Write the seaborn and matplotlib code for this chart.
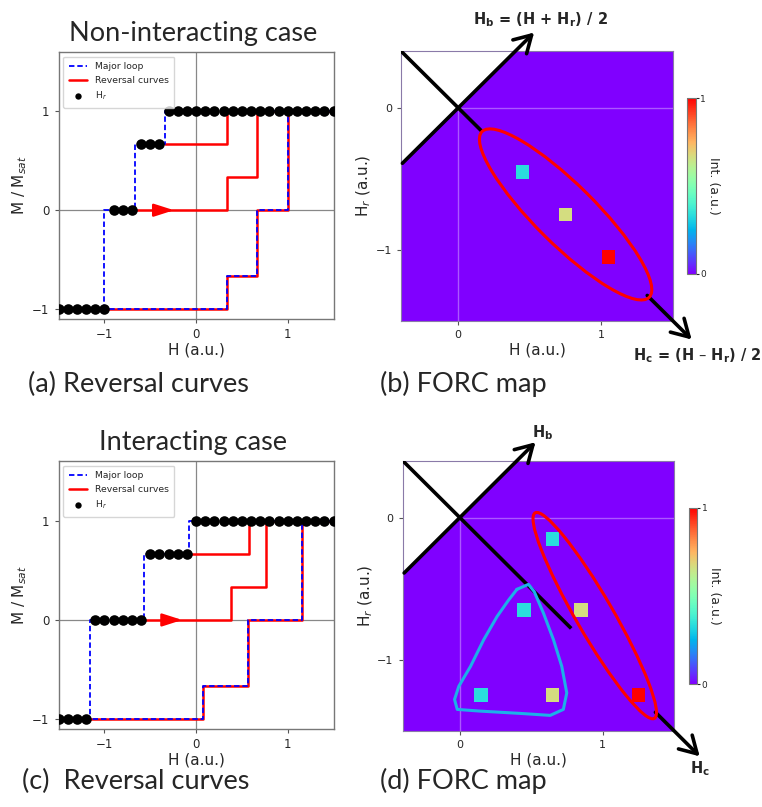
import numpy as np
import matplotlib
matplotlib.use("Agg")
import matplotlib.pyplot as plt
import seaborn as sns
from matplotlib.patches import Ellipse

sns.set_style("ticks")
plt.rcParams['font.family'] = ['DejaVu Sans']

# ---------------- (a) non-interacting case ----------------
major_h_a = [1.5, -0.333, -0.333, -0.667, -0.667, -1.0, -1.0, -1.5,
             0.333, 0.333, 0.667, 0.667, 1.0, 1.0, 1.5]
major_m_a = [1, 1, 0.667, 0.667, 0, 0, -1, -1,
             -1, -0.667, -0.667, 0, 0, 1, 1]
rev1_h_a = [-0.333, 0.333, 0.333, 1.5]
rev1_m_a = [0.667, 0.667, 1, 1]
rev2_h_a = [-0.667, 0.333, 0.333, 0.667, 0.667, 1.5]
rev2_m_a = [0, 0, 0.333, 0.333, 1, 1]
rev3_h_a = [-1.0, 0.333, 0.333, 0.667, 0.667, 1.0, 1.0, 1.5]
rev3_m_a = [-1, -1, -0.667, -0.667, 0, 0, 1, 1]
hr_h_a = [-1.5, -1.4, -1.3, -1.2, -1.1, -1.0, -0.9, -0.8, -0.7, -0.6, -0.5, -0.4,
          -0.3, -0.2, -0.1, 0.0, 0.1, 0.2, 0.3, 0.4, 0.5, 0.6, 0.7, 0.8, 0.9,
          1.0, 1.1, 1.2, 1.3, 1.4, 1.5]
hr_m_a = [-1, -1, -1, -1, -1, -1, 0, 0, 0, 0.667, 0.667, 0.667,
          1, 1, 1, 1, 1, 1, 1, 1, 1, 1, 1, 1, 1, 1, 1, 1, 1, 1, 1]

# ---------------- (c) interacting case ----------------
major_h_c = [1.5, -0.08, -0.08, -0.57, -0.57, -1.16, -1.16, -1.5,
             0.08, 0.08, 0.57, 0.57, 1.16, 1.16, 1.5]
major_m_c = [1, 1, 0.667, 0.667, 0, 0, -1, -1,
             -1, -0.667, -0.667, 0, 0, 1, 1]
rev1_h_c = [-0.08, 0.58, 0.58, 1.5]
rev1_m_c = [0.667, 0.667, 1, 1]
rev2_h_c = [-0.57, 0.38, 0.38, 0.76, 0.76, 1.5]
rev2_m_c = [0, 0, 0.333, 0.333, 1, 1]
rev3_h_c = [-1.16, 0.08, 0.08, 0.57, 0.57, 1.16, 1.16, 1.5]
rev3_m_c = [-1, -1, -0.667, -0.667, 0, 0, 1, 1]
hr_h_c = hr_h_a
hr_m_c = [-1, -1, -1, -1, 0, 0, 0, 0, 0, 0, 0.667, 0.667, 0.667, 0.667, 0.667,
          1, 1, 1, 1, 1, 1, 1, 1, 1, 1, 1, 1, 1, 1, 1, 1]

# ---------------- FORC maps ----------------
forc_h_b = [0.45, 0.75, 1.05]
forc_hr_b = [-0.45, -0.75, -1.05]
forc_int_b = [0.333, 0.667, 1.0]

forc_h_d = [0.65, 0.45, 0.85, 0.15, 0.65, 1.25]
forc_hr_d = [-0.15, -0.65, -0.65, -1.25, -1.25, -1.25]
forc_int_d = [0.333, 0.333, 0.667, 0.333, 0.667, 1.0]

# hand-drawn interaction blob in (d)
blob_h = [0.400, 0.481, 0.521, 0.586, 0.656, 0.714, 0.749, 0.725, 0.633, 0.423,
          0.144, -0.018, -0.037, -0.007, 0.075, 0.167, 0.261, 0.342, 0.400]
blob_hr = [-0.505, -0.470, -0.521, -0.673, -0.860, -1.047, -1.234, -1.350, -1.392,
           -1.378, -1.362, -1.350, -1.280, -1.187, -1.047, -0.860, -0.696, -0.580, -0.505]

title_font = 'Lato'

fig = plt.figure(figsize=(7.62, 8.07), dpi=100)


def loop_panel(rect, major_h, major_m, revs, hr_h, hr_m, arrow_tail, arrow_tip):
    ax = fig.add_axes(rect)
    ax.axhline(0, color='#888888', lw=0.9, zorder=0)
    ax.axvline(0, color='#888888', lw=0.9, zorder=0)
    for i, (rh, rm) in enumerate(revs):
        sns.lineplot(x=rh, y=rm, ax=ax, sort=False, estimator=None, color='red',
                     lw=1.8, zorder=2, label='Reversal curves' if i == 0 else None)
    sns.lineplot(x=major_h, y=major_m, ax=ax, sort=False, estimator=None,
                 color='blue', lw=1.3, linestyle=(0, (3, 1.6)), zorder=3,
                 label='Major loop')
    sns.scatterplot(x=hr_h, y=hr_m, ax=ax, color='black', s=58, linewidth=0,
                    zorder=4, label='H$_r$')
    ax.annotate('', xy=(arrow_tip, 0), xytext=(arrow_tail, 0),
                arrowprops=dict(arrowstyle='-|>,head_length=1.0,head_width=0.32',
                                color='red', lw=1.8, mutation_scale=12), zorder=5)
    h, l = ax.get_legend_handles_labels()
    order = [l.index('Major loop'), l.index('Reversal curves'), l.index('H$_r$')]
    ax.legend([h[k] for k in order], [l[k] for k in order], loc='upper left',
              fontsize=6.7, frameon=True, markerscale=0.6, borderpad=0.6)
    ax.set_xlim(-1.5, 1.5)
    ax.set_ylim(-1.1, 1.6)
    ax.set_xticks([-1, 0, 1])
    ax.set_yticks([-1, 0, 1])
    ax.tick_params(labelsize=8.5, length=3, color='#555555')
    ax.set_xlabel('H (a.u.)', fontsize=11, labelpad=1)
    ax.set_ylabel('M / M$_{sat}$', fontsize=11, labelpad=2)
    for s in ax.spines.values():
        s.set_visible(True)
        s.set_color('#777777')
        s.set_linewidth(1.0)
    return ax


def forc_panel(rect, cbar_rect, fh, fhr, fint, hc_segment, hc_arrow, hb_arrow,
               ellipse, hb_label, hc_label, hb_pos, hc_pos):
    ax = fig.add_axes(rect)
    gh = np.linspace(-0.4, 1.5, 500)
    ghr = np.linspace(-1.5, 0.4, 500)
    HH, HR = np.meshgrid(gh, ghr)
    Z = np.where(HR <= HH, 0.0, np.nan)
    ax.pcolormesh(gh, ghr, Z, cmap='rainbow', vmin=0, vmax=1, shading='auto',
                  rasterized=True, zorder=0)
    ax.axhline(0, color='white', alpha=0.35, lw=1, zorder=1)
    ax.axvline(0, color='white', alpha=0.35, lw=1, zorder=1)
    sns.scatterplot(x=fh, y=fhr, hue=fint, palette='rainbow', hue_norm=(0, 1),
                    marker='s', s=95, linewidth=0, legend=False, ax=ax, zorder=3)
    ax.plot(hc_segment[0], hc_segment[1], color='black', lw=2.6,
            solid_capstyle='butt', zorder=4)
    arrow_kw = dict(arrowstyle='->,head_length=0.6,head_width=0.35', color='black',
                    lw=2.6, mutation_scale=20, shrinkA=0, shrinkB=0)
    ax.annotate('', xy=hc_arrow[1], xytext=hc_arrow[0], arrowprops=arrow_kw,
                annotation_clip=False, zorder=4)
    ax.annotate('', xy=hb_arrow[1], xytext=hb_arrow[0], arrowprops=arrow_kw,
                annotation_clip=False, zorder=4)
    for e in ellipse:
        ax.add_patch(e)
    ax.set_xlim(-0.4, 1.5)
    ax.set_ylim(-1.5, 0.4)
    ax.set_xticks([0, 1])
    ax.set_yticks([0, -1])
    ax.tick_params(labelsize=8, length=3, color='#555555')
    ax.set_xlabel('H (a.u.)', fontsize=11, labelpad=2)
    ax.set_ylabel('H$_r$ (a.u.)', fontsize=11, labelpad=2)
    for s in ax.spines.values():
        s.set_visible(True)
        s.set_color('#8a7aa8')
        s.set_linewidth(0.8)
    fig.text(hb_pos[0], hb_pos[1], hb_label, fontsize=10.5, fontweight='bold',
             ha='center', va='center')
    fig.text(hc_pos[0], hc_pos[1], hc_label, fontsize=10.5, fontweight='bold',
             ha='center', va='center')
    cax = fig.add_axes(cbar_rect)
    sm = plt.cm.ScalarMappable(norm=plt.Normalize(0, 1), cmap='rainbow')
    cb = fig.colorbar(sm, cax=cax, ticks=[0, 1])
    cb.ax.set_yticklabels(['0', '1'])
    cb.ax.tick_params(labelsize=6.5, length=2, pad=1)
    cb.outline.set_edgecolor('#777777')
    cb.set_label('Int. (a.u.)', rotation=270, fontsize=9, labelpad=10)
    return ax


ax_a = loop_panel([0.0768, 0.6047, 0.3609, 0.3309], major_h_a, major_m_a,
                  [(rev1_h_a, rev1_m_a), (rev2_h_a, rev2_m_a), (rev3_h_a, rev3_m_a)],
                  hr_h_a, hr_m_a, -0.42, -0.21)
ax_c = loop_panel([0.0768, 0.0963, 0.3609, 0.3325], major_h_c, major_m_c,
                  [(rev1_h_c, rev1_m_c), (rev2_h_c, rev2_m_c), (rev3_h_c, rev3_m_c)],
                  hr_h_c, hr_m_c, -0.32, -0.12)

ell_b = [Ellipse((0.75, -0.75), 1.65, 0.42, angle=-45, fill=False,
                 edgecolor='red', lw=2.2, zorder=5)]
ax_b = forc_panel([0.5262, 0.6022, 0.357, 0.3346], [0.9016, 0.6605, 0.0118, 0.218],
                  forc_h_b, forc_hr_b, forc_int_b,
                  ([-0.4, 0.165], [0.4, -0.165]),
                  ((1.32, -1.32), (1.63, -1.63)),
                  ((-0.39, -0.39), (0.53, 0.53)),
                  ell_b,
                  r'H$_\mathbf{b}$ = (H + H$_\mathbf{r}$) / 2',
                  r'H$_\mathbf{c}$ = (H – H$_\mathbf{r}$) / 2',
                  (540 / 762, 1 - 20 / 807), (697 / 762, 1 - 356 / 807))

ell_d = [Ellipse((0.945, -0.69), 1.67, 0.26, angle=-60, fill=False,
                 edgecolor='red', lw=2.2, zorder=5)]
ax_d = forc_panel([0.5285, 0.0945, 0.356, 0.3346], [0.9046, 0.1524, 0.0105, 0.2185],
                  forc_h_d, forc_hr_d, forc_int_d,
                  ([-0.4, 0.78], [0.4, -0.78]),
                  ((1.37, -1.37), (1.68, -1.68)),
                  ((-0.39, -0.39), (0.53, 0.53)),
                  ell_d,
                  r'H$_\mathbf{b}$', r'H$_\mathbf{c}$',
                  (543 / 762, 1 - 433 / 807), (700 / 762, 1 - 769 / 807))
ax_d.plot(blob_h, blob_hr, color='#1cb0e8', lw=2.2, solid_joinstyle='round',
          zorder=5)

# titles and captions
fig.text(193 / 762, 1 - 33 / 807, 'Non-interacting case', family=title_font,
         fontsize=19.5, ha='center', va='center')
fig.text(193 / 762, 1 - 443 / 807, 'Interacting case', family=title_font,
         fontsize=19.5, ha='center', va='center')
fig.text(28 / 762, 1 - 384 / 807, '(a) Reversal curves', family=title_font,
         fontsize=19.5, ha='left', va='center')
fig.text(380 / 762, 1 - 384 / 807, '(b) FORC map', family=title_font,
         fontsize=19.5, ha='left', va='center')
fig.text(22 / 762, 1 - 781 / 807, '(c)  Reversal curves', family=title_font,
         fontsize=19.5, ha='left', va='center')
fig.text(380 / 762, 1 - 781 / 807, '(d) FORC map', family=title_font,
         fontsize=19.5, ha='left', va='center')

fig.savefig('out.png', dpi=100)
